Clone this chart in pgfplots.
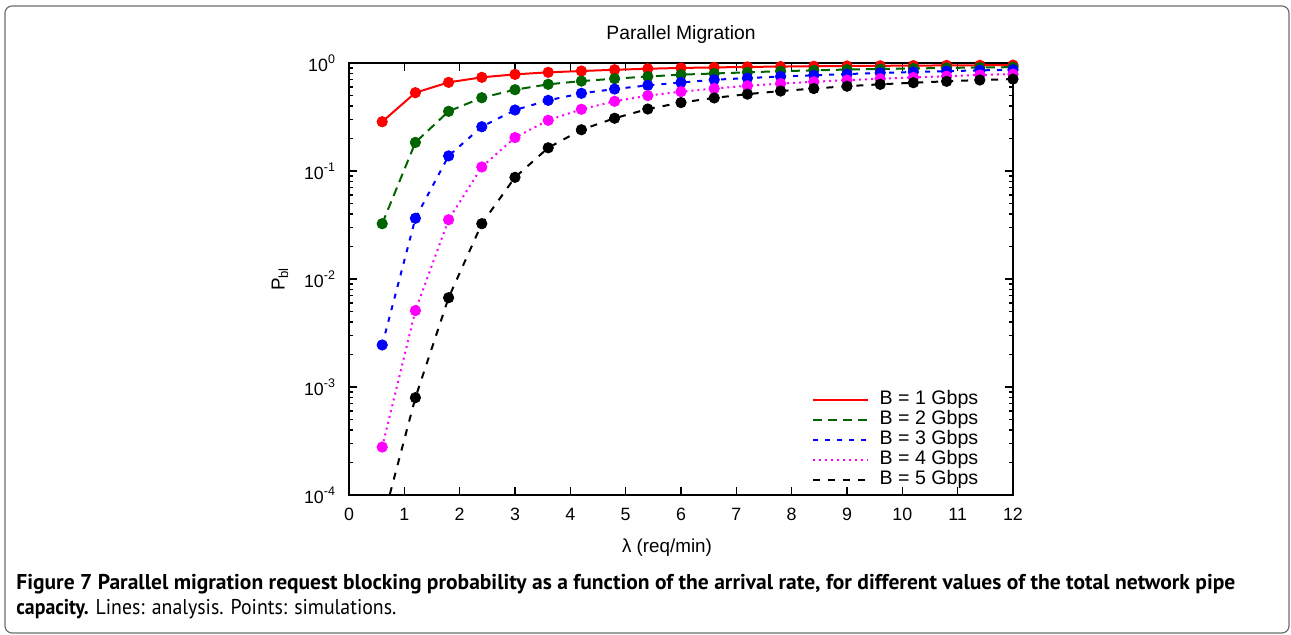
\documentclass[border=0pt]{standalone}
\usepackage{fontspec}
\setmainfont{Liberation Sans}
\newfontfamily\capfont{PT Sans}
\usepackage{graphicx}
\usepackage{pgfplots}
\usepackage{pgfplotstable}
\pgfplotsset{compat=1.18}
\definecolor{gdark}{RGB}{0,100,0}
\definecolor{mag}{RGB}{255,0,255}
\definecolor{framegray}{RGB}{110,110,110}

\pgfplotstableread{
x      r      g       b        m        k
0.6    0.286  0.0325  0.00245  0.000278 0.000055
1.2    0.531  0.184   0.0365   0.0051   0.000796
1.8    0.662  0.357   0.138    0.0354   0.00671
2.4    0.737  0.477   0.257    0.109    0.0325
3.0    0.785  0.566   0.367    0.204    0.0874
3.6    0.820  0.635   0.451    0.295    0.164
4.2    0.843  0.680   0.524    0.373    0.241
4.8    0.866  0.716   0.574    0.442    0.308
5.4    0.885  0.750   0.621    0.499    0.375
6.0    0.900  0.780   0.660    0.543    0.430
6.6    0.910  0.800   0.700    0.580    0.475
7.2    0.920  0.820   0.725    0.615    0.515
7.8    0.927  0.840   0.750    0.645    0.550
8.4    0.933  0.855   0.770    0.670    0.580
9.0    0.938  0.870   0.790    0.695    0.610
9.6    0.942  0.880   0.810    0.715    0.635
10.2   0.946  0.890   0.825    0.735    0.657
10.8   0.950  0.900   0.840    0.755    0.677
11.4   0.953  0.910   0.855    0.775    0.696
12.0   0.956  0.915   0.865    0.790    0.710
}\data

\newsavebox\capA
\newsavebox\capB

\begin{document}%
\sbox\capA{\capfont\fontsize{10.7}{12}\selectfont\textbf{Figure 7 Parallel migration request blocking probability as a function of the arrival rate, for different values of the total network pipe}}%
\sbox\capB{\capfont\fontsize{10.7}{12}\selectfont\textbf{capacity.} Lines: analysis. Points: simulations.}%
\pgfmathsetmacro\capscale{609.5/\the\wd\capA}%
\pgfmathsetmacro\capscaleb{190/\the\wd\capB}%
\begin{tikzpicture}
\path[use as bounding box] (-174.5pt,-70pt) rectangle (471pt,247.5pt);
\draw[framegray, line width=0.6pt, rounded corners=3.5pt] (-172pt,-69pt) rectangle (470pt,244.5pt);
\begin{axis}[
  at={(0pt,0pt)}, anchor=south west,
  scale only axis, width=332pt, height=216pt,
  xmin=0, xmax=12, ymin=1e-4, ymax=1, ymode=log,
  clip mode=individual,
  xtick={0,1,...,12},
  ytick={1e-4,1e-3,1e-2,1e-1,1},
  yticklabels={10\textsuperscript{-4},10\textsuperscript{-3},10\textsuperscript{-2},10\textsuperscript{-1},10\textsuperscript{0}},
  /pgf/number format/assume math mode=true,
  tick align=inside,
  major tick length=4pt, minor tick length=2pt,
  axis line style={line width=0.75pt},
  every tick/.style={black, line width=0.6pt},
  tick label style={font=\fontsize{8.9}{10}\selectfont},
  xticklabel style={yshift=-3pt},
  yticklabel style={xshift=-3pt},
  title={Parallel Migration},
  title style={at={(axis description cs:0.5,1)}, anchor=base, yshift=6pt, font=\fontsize{9.65}{11}\selectfont},
  xlabel={λ (req/min)},
  xlabel style={at={(axis description cs:0.5,0)}, anchor=base, yshift=-29pt, xshift=-7pt, font=\fontsize{9.4}{11}\selectfont},
  ylabel={P\textsubscript{bl}},
  ylabel style={at={(axis description cs:-0.104,0.5)}, anchor=center, font=\fontsize{9.4}{11}\selectfont},
  legend style={draw=none, fill=none, inner sep=0pt, at={(0.9503,0.0116)}, anchor=south east,
    font=\fontsize{9.8}{10}\selectfont,
    nodes={text height=6.9pt, text depth=1.8pt, inner sep=0.65pt}},
  legend cell align=left,
  legend image code/.code={\draw[#1] (0pt,0pt) -- (27.5pt,0pt);},
  /tikz/every odd column/.append style={column sep=4.5pt},
]
\addplot[red, line width=1pt] table[x=x,y=r] {\data};
\addlegendentry{B = 1 Gbps}
\addplot[gdark, line width=1pt, dash pattern=on 4.5pt off 3pt] table[x=x,y=g] {\data};
\addlegendentry{B = 2 Gbps}
\addplot[blue, line width=1pt, dash pattern=on 2.5pt off 3.5pt] table[x=x,y=b] {\data};
\addlegendentry{B = 3 Gbps}
\addplot[mag, line width=1pt, dash pattern=on 1pt off 2pt] table[x=x,y=m] {\data};
\addlegendentry{B = 4 Gbps}
\addplot[black, line width=1pt, dash pattern=on 3.5pt off 4pt] table[x=x,y=k] {\data};
\addlegendentry{B = 5 Gbps}
\addplot[only marks, mark=*, mark size=2.6pt, red, forget plot] table[x=x,y=r] {\data};
\addplot[only marks, mark=*, mark size=2.6pt, gdark, forget plot] table[x=x,y=g] {\data};
\addplot[only marks, mark=*, mark size=2.6pt, blue, forget plot] table[x=x,y=b] {\data};
\addplot[only marks, mark=*, mark size=2.6pt, mag, forget plot] table[x=x,y=m] {\data};
\addplot[only marks, mark=*, mark size=2.6pt, black, forget plot, skip coords between index={0}{1}] table[x=x,y=k] {\data};
\end{axis}
\node[anchor=base west, inner sep=0pt] at (-166.5pt,-47.5pt) {\scalebox{\capscale}[1]{\usebox\capA}};
\node[anchor=base west, inner sep=0pt] at (-166.5pt,-59.7pt) {\scalebox{\capscaleb}[1]{\usebox\capB}};
\end{tikzpicture}%
\end{document}
